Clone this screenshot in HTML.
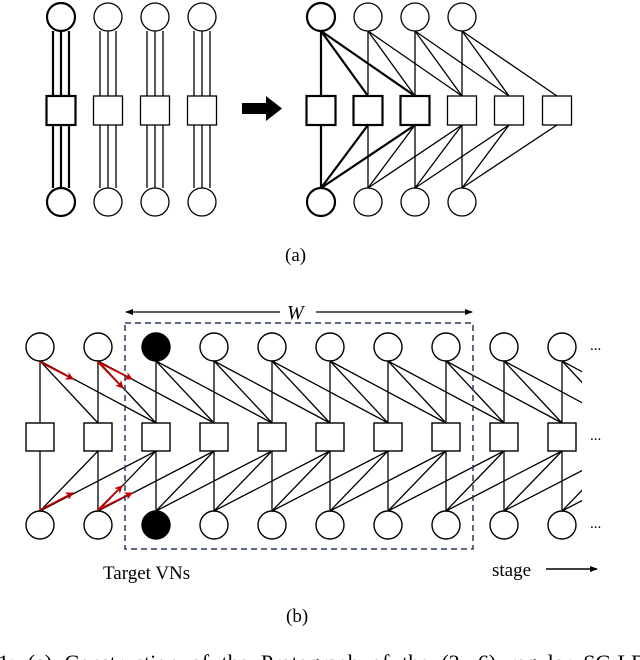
<!DOCTYPE html>
<html><head><meta charset="utf-8"><style>
html,body{margin:0;padding:0;background:#fff;}
svg{display:block;}
text{font-family:"Liberation Serif",serif;fill:#000;}
</style></head><body>
<svg width="640" height="660" viewBox="0 0 640 660" xmlns="http://www.w3.org/2000/svg">
<defs>
<clipPath id="cp"><rect x="0" y="320" width="582" height="240"/></clipPath>
<marker id="ra" markerWidth="8" markerHeight="8" refX="7" refY="4" orient="auto" markerUnits="userSpaceOnUse"><path d="M0,0 L8,4 L0,8 L2,4 Z" fill="#c00000"/></marker>
<marker id="ba" markerWidth="8" markerHeight="8" refX="7" refY="4" orient="auto" markerUnits="userSpaceOnUse"><path d="M0,1 L8,4 L0,7 Z" fill="#000"/></marker>
</defs>
<g stroke="#000" fill="none" stroke-width="1.3">
<g stroke-width="2.2"><line x1="53" y1="31" x2="53" y2="188"/><line x1="61" y1="31" x2="61" y2="188"/><line x1="69" y1="31" x2="69" y2="188"/></g>
<line x1="100" y1="31" x2="100" y2="188"/><line x1="108" y1="31" x2="108" y2="188"/><line x1="116" y1="31" x2="116" y2="188"/>
<line x1="147" y1="31" x2="147" y2="188"/><line x1="155" y1="31" x2="155" y2="188"/><line x1="163" y1="31" x2="163" y2="188"/>
<line x1="194" y1="31" x2="194" y2="188"/><line x1="202" y1="31" x2="202" y2="188"/><line x1="210" y1="31" x2="210" y2="188"/>
<g fill="#fff">
<circle cx="61" cy="17" r="14" stroke-width="2.2"/><circle cx="108" cy="17" r="14"/><circle cx="155" cy="17" r="14"/><circle cx="202" cy="17" r="14"/>
<circle cx="61" cy="202" r="14" stroke-width="2.2"/><circle cx="108" cy="202" r="14"/><circle cx="155" cy="202" r="14"/><circle cx="202" cy="202" r="14"/>
<rect x="46.5" y="96" width="29" height="29" stroke-width="2.2"/><rect x="93.5" y="96" width="29" height="29"/><rect x="140.5" y="96" width="29" height="29"/><rect x="187.5" y="96" width="29" height="29"/>
</g>
<g stroke-width="2.2">
<line x1="321" y1="31" x2="321" y2="96"/><line x1="321" y1="31" x2="368" y2="96"/><line x1="321" y1="31" x2="415" y2="96"/>
<line x1="321" y1="188" x2="321" y2="125"/><line x1="321" y1="188" x2="368" y2="125"/><line x1="321" y1="188" x2="415" y2="125"/>
</g>
<line x1="368" y1="31" x2="368" y2="96"/><line x1="368" y1="31" x2="415" y2="96"/><line x1="368" y1="31" x2="462" y2="96"/>
<line x1="415" y1="31" x2="415" y2="96"/><line x1="415" y1="31" x2="462" y2="96"/><line x1="415" y1="31" x2="509" y2="96"/>
<line x1="462" y1="31" x2="462" y2="96"/><line x1="462" y1="31" x2="509" y2="96"/><line x1="462" y1="31" x2="557" y2="96"/>
<line x1="368" y1="188" x2="368" y2="125"/><line x1="368" y1="188" x2="415" y2="125"/><line x1="368" y1="188" x2="462" y2="125"/>
<line x1="415" y1="188" x2="415" y2="125"/><line x1="415" y1="188" x2="462" y2="125"/><line x1="415" y1="188" x2="509" y2="125"/>
<line x1="462" y1="188" x2="462" y2="125"/><line x1="462" y1="188" x2="509" y2="125"/><line x1="462" y1="188" x2="557" y2="125"/>
<g fill="#fff">
<circle cx="321" cy="17" r="14" stroke-width="2.2"/><circle cx="368" cy="17" r="14"/><circle cx="415" cy="17" r="14"/><circle cx="462" cy="17" r="14"/>
<circle cx="321" cy="202" r="14" stroke-width="2.2"/><circle cx="368" cy="202" r="14"/><circle cx="415" cy="202" r="14"/><circle cx="462" cy="202" r="14"/>
<rect x="306.5" y="96" width="29" height="29" stroke-width="2.2"/><rect x="353.5" y="96" width="29" height="29" stroke-width="2.2"/><rect x="400.5" y="96" width="29" height="29" stroke-width="2.2"/>
<rect x="447.5" y="96" width="29" height="29"/><rect x="494.5" y="96" width="29" height="29"/><rect x="542.5" y="96" width="29" height="29"/>
</g>
</g>
<polygon points="242,103 266,103 266,96 282,108.5 266,121 266,114 242,114" fill="#000"/>
<text x="285" y="261" font-size="19">(a)</text>

<g stroke="#000" stroke-width="1.3" fill="none" clip-path="url(#cp)">
<line x1="40" y1="361" x2="40" y2="423"/><line x1="98" y1="361" x2="98" y2="423"/><line x1="156" y1="361" x2="156" y2="423"/><line x1="214" y1="361" x2="214" y2="423"/><line x1="272" y1="361" x2="272" y2="423"/><line x1="330" y1="361" x2="330" y2="423"/><line x1="388" y1="361" x2="388" y2="423"/><line x1="446" y1="361" x2="446" y2="423"/><line x1="504" y1="361" x2="504" y2="423"/><line x1="562" y1="361" x2="562" y2="423"/>
<line x1="40" y1="451" x2="40" y2="511"/><line x1="98" y1="451" x2="98" y2="511"/><line x1="156" y1="451" x2="156" y2="511"/><line x1="214" y1="451" x2="214" y2="511"/><line x1="272" y1="451" x2="272" y2="511"/><line x1="330" y1="451" x2="330" y2="511"/><line x1="388" y1="451" x2="388" y2="511"/><line x1="446" y1="451" x2="446" y2="511"/><line x1="504" y1="451" x2="504" y2="511"/><line x1="562" y1="451" x2="562" y2="511"/>
<line x1="40" y1="361" x2="98" y2="423"/><line x1="40" y1="361" x2="156" y2="423"/>
<line x1="98" y1="361" x2="156" y2="423"/><line x1="98" y1="361" x2="214" y2="423"/>
<line x1="156" y1="361" x2="214" y2="423"/><line x1="156" y1="361" x2="272" y2="423"/>
<line x1="214" y1="361" x2="272" y2="423"/><line x1="214" y1="361" x2="330" y2="423"/>
<line x1="272" y1="361" x2="330" y2="423"/><line x1="272" y1="361" x2="388" y2="423"/>
<line x1="330" y1="361" x2="388" y2="423"/><line x1="330" y1="361" x2="446" y2="423"/>
<line x1="388" y1="361" x2="446" y2="423"/><line x1="388" y1="361" x2="504" y2="423"/>
<line x1="446" y1="361" x2="504" y2="423"/><line x1="446" y1="361" x2="562" y2="423"/>
<line x1="504" y1="361" x2="562" y2="423"/><line x1="504" y1="361" x2="620" y2="423"/>
<line x1="562" y1="361" x2="620" y2="423"/><line x1="562" y1="361" x2="678" y2="423"/>
<line x1="40" y1="511" x2="98" y2="451"/><line x1="40" y1="511" x2="156" y2="451"/>
<line x1="98" y1="511" x2="156" y2="451"/><line x1="98" y1="511" x2="214" y2="451"/>
<line x1="156" y1="511" x2="214" y2="451"/><line x1="156" y1="511" x2="272" y2="451"/>
<line x1="214" y1="511" x2="272" y2="451"/><line x1="214" y1="511" x2="330" y2="451"/>
<line x1="272" y1="511" x2="330" y2="451"/><line x1="272" y1="511" x2="388" y2="451"/>
<line x1="330" y1="511" x2="388" y2="451"/><line x1="330" y1="511" x2="446" y2="451"/>
<line x1="388" y1="511" x2="446" y2="451"/><line x1="388" y1="511" x2="504" y2="451"/>
<line x1="446" y1="511" x2="504" y2="451"/><line x1="446" y1="511" x2="562" y2="451"/>
<line x1="504" y1="511" x2="562" y2="451"/><line x1="504" y1="511" x2="620" y2="451"/>
<line x1="562" y1="511" x2="620" y2="451"/><line x1="562" y1="511" x2="678" y2="451"/>
</g>
<g stroke="#c00000" stroke-width="1.8" fill="none">
<line x1="40" y1="362" x2="73" y2="379" marker-end="url(#ra)"/>
<line x1="98" y1="362" x2="123" y2="388" marker-end="url(#ra)"/>
<line x1="98" y1="362" x2="132" y2="379" marker-end="url(#ra)"/>
<line x1="40" y1="510" x2="73" y2="493" marker-end="url(#ra)"/>
<line x1="98" y1="510" x2="122" y2="486" marker-end="url(#ra)"/>
<line x1="98" y1="510" x2="132" y2="493" marker-end="url(#ra)"/>
</g>
<g stroke="#000" stroke-width="1.4" fill="#fff">
<circle cx="40" cy="347" r="14"/><circle cx="98" cy="347" r="14"/><circle cx="156" cy="347" r="14" fill="#000"/><circle cx="214" cy="347" r="14"/><circle cx="272" cy="347" r="14"/><circle cx="330" cy="347" r="14"/><circle cx="388" cy="347" r="14"/><circle cx="446" cy="347" r="14"/><circle cx="504" cy="347" r="14"/><circle cx="562" cy="347" r="14"/>
<circle cx="40" cy="525" r="14"/><circle cx="98" cy="525" r="14"/><circle cx="156" cy="525" r="14" fill="#000"/><circle cx="214" cy="525" r="14"/><circle cx="272" cy="525" r="14"/><circle cx="330" cy="525" r="14"/><circle cx="388" cy="525" r="14"/><circle cx="446" cy="525" r="14"/><circle cx="504" cy="525" r="14"/><circle cx="562" cy="525" r="14"/>
<rect x="26" y="423" width="28" height="28"/><rect x="84" y="423" width="28" height="28"/><rect x="142" y="423" width="28" height="28"/><rect x="200" y="423" width="28" height="28"/><rect x="258" y="423" width="28" height="28"/><rect x="316" y="423" width="28" height="28"/><rect x="374" y="423" width="28" height="28"/><rect x="432" y="423" width="28" height="28"/><rect x="490" y="423" width="28" height="28"/><rect x="548" y="423" width="28" height="28"/>
</g>
<rect x="125" y="323" width="348" height="226" fill="none" stroke="#2b3a5c" stroke-width="1.5" stroke-dasharray="6,4"/>
<line x1="280" y1="312" x2="126" y2="312" stroke="#000" stroke-width="1.2" marker-end="url(#ba)"/>
<line x1="316" y1="312" x2="472" y2="312" stroke="#000" stroke-width="1.2" marker-end="url(#ba)"/>
<text x="287" y="319" font-size="20" font-style="italic">W</text>
<text x="590" y="350" font-size="15">...</text>
<text x="590" y="440" font-size="15">...</text>
<text x="590" y="528" font-size="15">...</text>
<text x="103" y="579" font-size="19">Target VNs</text>
<text x="492" y="576" font-size="19">stage</text>
<line x1="546" y1="569" x2="597" y2="569" stroke="#000" stroke-width="1.6" marker-end="url(#ba)"/>
<text x="286" y="622" font-size="19">(b)</text>
<text x="-2" y="670" font-size="22" word-spacing="7">1:  (a) Construction of the Protograph of the (2, 6) regular SC-LDPC</text>
</svg>
</body></html>
